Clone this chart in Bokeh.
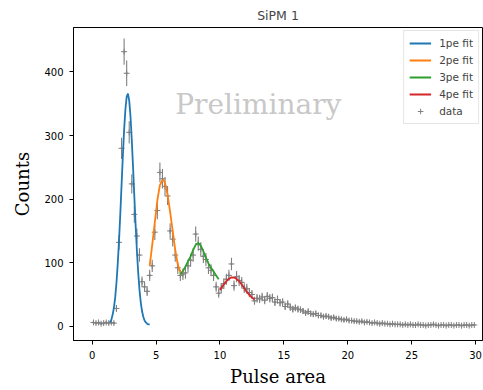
import math
from bokeh.plotting import figure
from bokeh.models import Range1d, FixedTicker, Label, Legend, LegendItem, ColumnDataSource
from bokeh.embed import file_html
from bokeh.resources import INLINE

# ---- data ----
bin_width = 0.2
bin_centers = [round(0.1 + bin_width * i, 1) for i in range(150)]
counts = [
    6, 5, 6, 4, 5, 6, 5, 6, 5, 28,
    132, 280, 432, 398, 305, 224, 176, 142, 112, 70,
    62, 55, 80, 95, 148, 182, 242, 232, 220, 205,
    150, 137, 112, 92, 80, 82, 84, 95, 104, 112,
    145, 130, 121, 110, 105, 92, 88, 80, 62, 52,
    60, 67, 74, 80, 98, 64, 78, 72, 69, 60,
    59, 53, 50, 40, 44, 43, 46, 41, 47, 44,
    45, 38, 42, 37, 38, 31, 35, 30, 27, 29,
    27, 26, 24, 21, 23, 20, 19, 20, 17, 17,
    15, 16, 15, 13, 14, 12, 12, 11, 10, 11,
    9, 9, 8, 8, 7, 8, 6, 7, 6, 5,
    6, 5, 4, 5, 4, 4, 3, 4, 3, 3,
    3, 2, 3, 2, 3, 2,
    2, 3, 2, 2, 1, 2, 2, 3, 2, 1, 2, 2,
    1, 2, 2, 1, 2, 2, 1, 2, 2, 1, 2, 2,
]

fit1_x = [1.4, 1.5, 1.6, 1.7, 1.8, 1.9, 2.0, 2.1, 2.2, 2.3, 2.4, 2.5, 2.6, 2.7, 2.8, 2.9,
          3.0, 3.1, 3.2, 3.3, 3.4, 3.5, 3.6, 3.7, 3.8, 3.9, 4.0, 4.1, 4.2, 4.3, 4.4, 4.5]
fit1_y = [6, 10, 18, 29, 45, 68, 98, 134, 176, 222, 267, 309, 341, 361, 366, 355,
          330, 293, 250, 204, 159, 119, 85, 58, 38, 24, 15, 9, 6, 4, 3, 3]

fit2_x = [4.5, 4.7, 4.9, 5.1, 5.3, 5.5, 5.6, 5.7, 5.9, 6.1, 6.3, 6.5, 6.7, 6.9, 7.0]
fit2_y = [95, 128, 163, 198, 222, 230, 230, 225, 207, 180, 150, 120, 97, 85, 82]

fit3_x = [6.9, 7.1, 7.3, 7.5, 7.7, 7.9, 8.1, 8.3, 8.5, 8.7, 8.9, 9.1, 9.3, 9.5, 9.7, 9.9]
fit3_y = [82, 87, 94, 102, 110, 120, 128, 131, 127, 118, 108, 99, 92, 86, 80, 74]

fit4_x = [10.0, 10.3, 10.6, 10.9, 11.2, 11.5, 11.8, 12.1, 12.4, 12.7]
fit4_y = [57, 66, 73, 77, 76, 71, 63, 54, 47, 42]

x_ticks = [0, 5, 10, 15, 20, 25, 30]
y_ticks = [0, 100, 200, 300, 400]

# ---- derived error bars ----
err = [math.sqrt(c) for c in counts]
src = ColumnDataSource(dict(
    x=bin_centers, y=counts,
    xl=[x - bin_width / 2 for x in bin_centers], xr=[x + bin_width / 2 for x in bin_centers],
    yl=[c - e for c, e in zip(counts, err)], yh=[c + e for c, e in zip(counts, err)],
))

p = figure(width=483, height=390, output_backend="svg", toolbar_location=None,
           x_range=Range1d(-1.46, 30.54), y_range=Range1d(-22.4, 470),
           min_border_left=73, min_border_right=1, min_border_top=26, min_border_bottom=50,
           title="SiPM 1")
p.background_fill_color = "white"
p.border_fill_color = "white"
p.outline_line_color = "black"
p.outline_line_width = 1
p.grid.visible = False

p.title.align = "center"
p.title.text_font = "DejaVu Sans"
p.title.text_font_size = "12.5px"
p.title.text_font_style = "normal"
p.title.offset = 0

for ax in (p.xaxis[0], p.yaxis[0]):
    ax.major_label_text_font = "DejaVu Sans"
    ax.major_label_text_font_size = "10px"
    ax.major_label_text_color = "black"
    ax.major_tick_out = 4
    ax.major_tick_in = 0
    ax.minor_tick_out = 0
    ax.minor_tick_in = 0
    ax.axis_line_color = "black"
    ax.axis_label_text_font = "DejaVu Serif"
    ax.axis_label_text_font_size = "18px"
    ax.axis_label_text_font_style = "normal"
    ax.axis_label_text_color = "black"
    ax.major_label_standoff = 6

p.xaxis[0].axis_label_standoff = 4
p.yaxis[0].axis_label_standoff = 8
p.xaxis[0].ticker = FixedTicker(ticks=x_ticks)
p.yaxis[0].ticker = FixedTicker(ticks=y_ticks)
p.xaxis[0].axis_label = "Pulse area"
p.yaxis[0].axis_label = "Counts"

gray = "#808080"
p.segment(x0="xl", y0="y", x1="xr", y1="y", source=src, line_color=gray, line_width=1.1)
p.segment(x0="x", y0="yl", x1="x", y1="yh", source=src, line_color=gray, line_width=1.1)
r_data = p.scatter(x="x", y="y", source=src, marker="cross", size=6, line_color=gray, line_width=1)

r1 = p.line(fit1_x, fit1_y, line_color="#1f77b4", line_width=1.8)
r2 = p.line(fit2_x, fit2_y, line_color="#ff7f0e", line_width=1.8)
r3 = p.line(fit3_x, fit3_y, line_color="#2ca02c", line_width=1.8)
r4 = p.line(fit4_x, fit4_y, line_color="#d62728", line_width=1.8)

p.add_layout(Label(x=13.0, y=349, text="Preliminary", text_align="center", text_baseline="middle",
                   text_font="DejaVu Serif", text_font_size="28px", text_color="#c8c8c8"))

legend = Legend(items=[
    LegendItem(label="1pe fit", renderers=[r1]),
    LegendItem(label="2pe fit", renderers=[r2]),
    LegendItem(label="3pe fit", renderers=[r3]),
    LegendItem(label="4pe fit", renderers=[r4]),
    LegendItem(label="data", renderers=[r_data]),
], location="top_right")
legend.label_text_font = "DejaVu Sans"
legend.label_text_font_size = "10.5px"
legend.glyph_width = 22
legend.glyph_height = 14
legend.label_height = 14
legend.spacing = 3
legend.padding = 5
legend.margin = 3
legend.label_standoff = 8
legend.border_line_color = "#cccccc"
legend.background_fill_alpha = 0.85
p.add_layout(legend)

open("out.html", "w").write(file_html(p, INLINE))
